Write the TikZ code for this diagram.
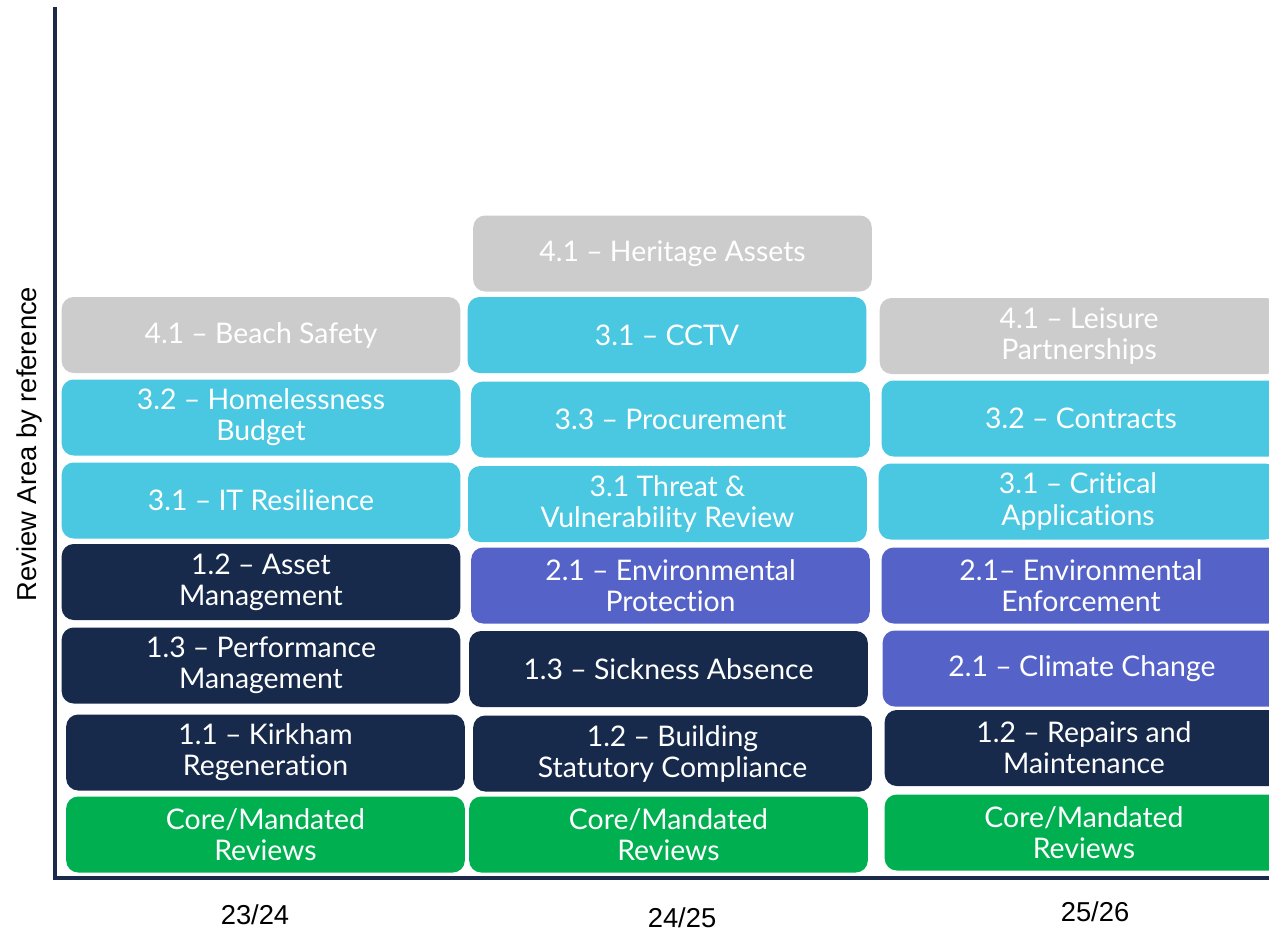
\documentclass[tikz,border=0pt]{standalone}
\usepackage{fontspec}
\setmainfont{Lato}[Ligatures=NoCommon]
\newfontfamily\axisfont{Liberation Sans}
\definecolor{cgrey}{HTML}{CCCCCC}
\definecolor{ccyan}{HTML}{4AC8E1}
\definecolor{cnavy}{HTML}{172A4B}
\definecolor{cpurple}{HTML}{5563C8}
\definecolor{cgreen}{HTML}{00B050}
\definecolor{caxis}{HTML}{1B2A4A}
\begin{document}
\begin{tikzpicture}[x=0.75pt,y=-0.75pt,
  areabox/.style={rectangle, rounded corners=9pt, draw=none, inner sep=0pt,
    minimum width=299pt, minimum height=57pt, align=center, text=white,
    font=\fontsize{21.3}{23.3}\selectfont},
  greybox/.style={areabox, fill=cgrey},
  cyanbox/.style={areabox, fill=ccyan},
  navybox/.style={areabox, fill=cnavy},
  purplebox/.style={areabox, fill=cpurple},
  greenbox/.style={areabox, fill=cgreen},
  axisline/.style={draw=caxis, line width=2.3pt},
  axislabel/.style={font=\axisfont\fontsize{20.5}{24}\selectfont, text=black, inner sep=0pt}]
\useasboundingbox (0,0) rectangle (1269,931);
\clip (0,0) rectangle (1269,931);

% axes
\coordinate (ytop) at (55,7);
\coordinate (origin) at (55,878);
\coordinate (xend) at (1272,878);
\draw[axisline] (ytop) -- (origin);
\draw[axisline] ([xshift=-1.5pt]origin) -- (xend);

\node[axislabel, rotate=90] (ylab) at (29,444) {Review Area by reference};
\node[axislabel] (y1) at (255,915) {23/24};
\node[axislabel] (y2) at (682,918) {24/25};
\node[axislabel] (y3) at (1095,912) {25/26};

% 23/24
\node[greybox]   (a41) at (261,335)   {4.1 -- Beach Safety};
\node[cyanbox]   (a32) at (261,417.5) {3.2 -- Homelessness\\Budget};
\node[cyanbox]   (a31) at (261,500.5) {3.1 -- IT Resilience};
\node[navybox]   (a12) at (261,582)   {1.2 -- Asset\\Management};
\node[navybox]   (a13) at (261,665.5) {1.3 -- Performance\\Management};
\node[navybox]   (a11) at (265.5,752.5) {1.1 -- Kirkham\\Regeneration};
\node[greenbox]  (acore) at (265.5,834.5) {Core/Mandated\\Reviews};

% 24/25
\node[greybox]   (b41) at (672.5,253.5) {4.1 -- Heritage Assets};
\node[cyanbox]   (b31) at (667,335)     {3.1 -- CCTV};
\node[cyanbox]   (b33) at (670.5,419.5) {3.3 -- Procurement};
\node[cyanbox]   (b31t) at (667.5,504)  {3.1 Threat \&\\Vulnerability Review};
\node[purplebox] (b21) at (670.5,585.5) {2.1 -- Environmental\\Protection};
\node[navybox]   (b13) at (668.5,669)   {1.3 -- Sickness Absence};
\node[navybox]   (b12) at (672.5,753.5) {1.2 -- Building\\Statutory Compliance};
\node[greenbox]  (bcore) at (668.5,834.5) {Core/Mandated\\Reviews};

% 25/26
\node[greybox]   (c41) at (1079,336)   {4.1 -- Leisure\\Partnerships};
\node[cyanbox]   (c32) at (1081,418.5) {3.2 -- Contracts};
\node[cyanbox]   (c31) at (1078,501.5) {3.1 -- Critical\\Applications};
\node[purplebox] (c21e) at (1081,585.5) {2.1-- Environmental\\Enforcement};
\node[purplebox] (c21c) at (1082,668.5) {2.1 -- Climate Change};
\node[navybox]   (c12) at (1084,748)   {1.2 -- Repairs and\\Maintenance};
\node[greenbox]  (ccore) at (1084,832.5) {Core/Mandated\\Reviews};
\end{tikzpicture}
\end{document}
